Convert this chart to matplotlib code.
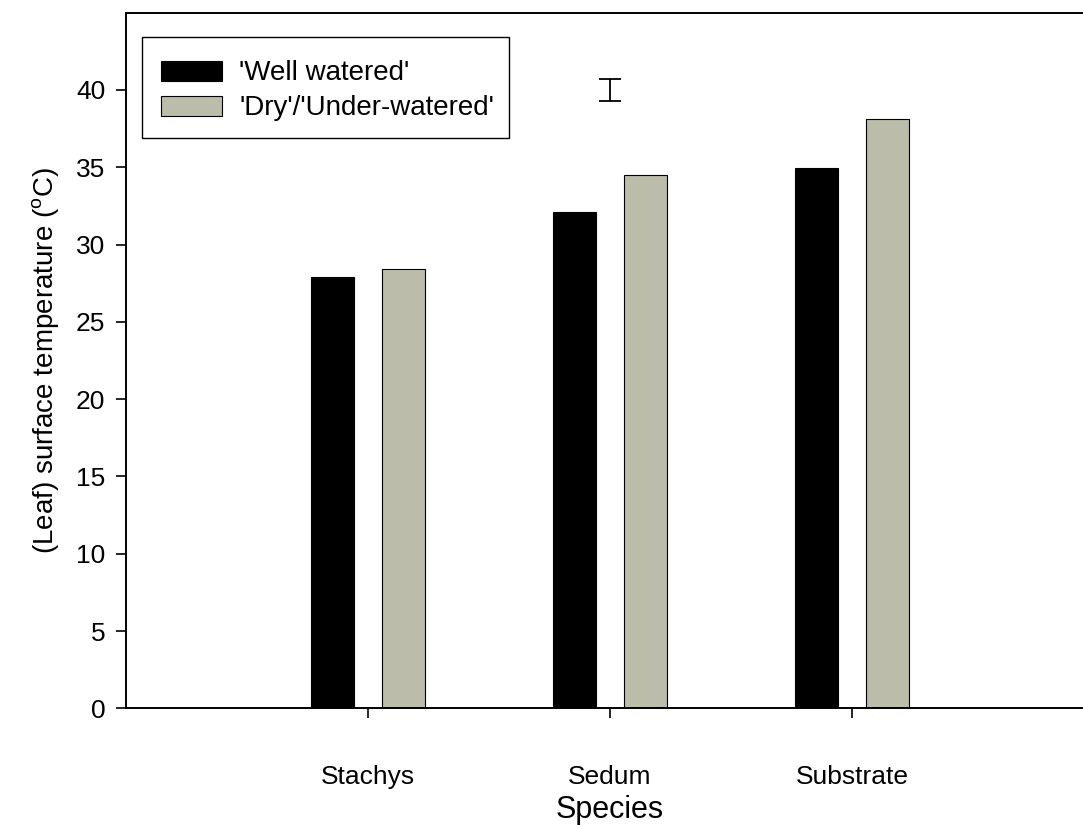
import numpy as np
import matplotlib
matplotlib.use('Agg')
import matplotlib.pyplot as plt
from matplotlib.patches import Rectangle

plt.rcParams['font.family'] = ['Liberation Sans', 'DejaVu Sans']
plt.rcParams['mathtext.fontset'] = 'custom'
plt.rcParams['mathtext.rm'] = 'Liberation Sans'

# Data.
species = ['Stachys', 'Sedum', 'Substrate']
well_watered = [27.9, 32.1, 34.95]
dry = [28.4, 34.5, 38.1]
series_labels = ["'Well watered'", "'Dry'/'Under-watered'"]
# Single error bar shown above Sedum (centre and half-length).
err_x = 2
err_y = 40.0
err_half = 0.73

W, H = 1083, 825
fig = plt.figure(figsize=(W / 100, H / 100), dpi=100)
# Axes: left spine at x=126 px, x-range 0..4 spans 968 px (right edge past the image).
ax = fig.add_axes([126 / W, (H - 708.3) / H, 968 / W, (708.3 - 12.7) / H])

x = np.arange(1, len(species) + 1)
width = 0.18
off = 0.147
b1 = ax.bar(x - off, well_watered, width, color='black', edgecolor='black', linewidth=0.8)
b2 = ax.bar(x + off, dry, width, color='#bbbdaa', edgecolor='black', linewidth=0.8)

ax.errorbar([err_x], [err_y], yerr=[err_half], fmt='none', ecolor='black',
            elinewidth=1.3, capsize=8, capthick=1.3)

ax.set_xlim(0, 4)
ax.set_ylim(0, 45)
ax.set_yticks(np.arange(0, 45, 5))
ax.set_xticks(x)
ax.set_xticklabels(species)

for s in ax.spines.values():
    s.set_linewidth(1.4)

ax.tick_params(axis='both', direction='out', length=7, width=1.2, labelsize=19, pad=8)
ax.tick_params(axis='x', pad=34)

ax.set_xlabel('Species', fontsize=22, labelpad=4)
ax.set_ylabel(r'(Leaf) surface temperature ($^{\rm o}$C)', fontsize=20, labelpad=10)

# Legend box drawn separately to match the extra space at the bottom.
fig.patches.append(Rectangle((142 / W, 1 - 138 / H), (509 - 142) / W, (138 - 37) / H,
                             transform=fig.transFigure, fill=False,
                             edgecolor='black', linewidth=1.0))
leg = fig.legend([b1, b2], series_labels, loc='upper left',
                 bbox_to_anchor=(161 / W, 1 - 60.5 / H), frameon=False,
                 fontsize=20, handlelength=2.2, handleheight=0.72,
                 handletextpad=0.62, labelspacing=0.32, borderpad=0, borderaxespad=0)

fig.savefig('out.png', dpi=100)
